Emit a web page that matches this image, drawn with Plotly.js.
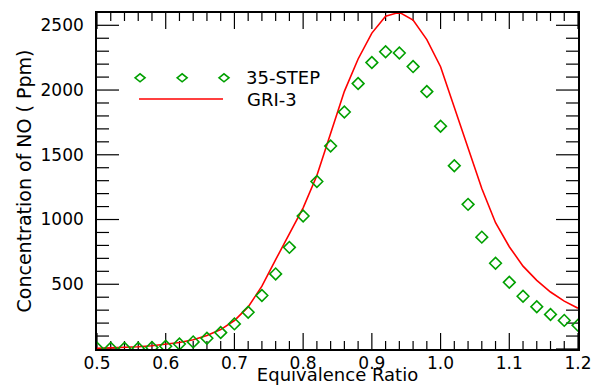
<!DOCTYPE html>
<html>
<head>
<meta charset="utf-8">
<script src="https://cdn.plot.ly/plotly-3.0.1.min.js"></script>
<style>
html,body{margin:0;padding:0;background:#fff;}
#chart{width:592px;height:385px;}
</style>
</head>
<body>
<div id="chart"></div>
<script>
// Equivalence ratio values
const phi = [0.50,0.52,0.54,0.56,0.58,0.60,0.62,0.64,0.66,0.68,0.70,0.72,0.74,0.76,0.78,0.80,0.82,0.84,0.86,0.88,0.90,0.92,0.94,0.96,0.98,1.00,1.02,1.04,1.06,1.08,1.10,1.12,1.14,1.16,1.18,1.20];
// 35-STEP mechanism NO (ppm)
const noStep35 = [6,6,6,6,11,21,39,55,83,127,194,284,413,580,785,1027,1294,1568,1830,2050,2212,2296,2286,2181,1988,1721,1416,1117,864,662,515,407,327,267,221,183];
// GRI-3 mechanism NO (ppm)
const noGri3 = [5,8,12,17,25,35,50,72,105,150,220,325,485,690,890,1090,1340,1660,1990,2240,2440,2570,2600,2540,2390,2180,1870,1550,1240,975,790,640,530,440,370,315];
const legendNames = ["35-STEP","GRI-3"];
const yTickVals = [500,1000,1500,2000,2500];

const FONT = "DejaVu Sans, Verdana, sans-serif";
const GREEN = "rgb(0,160,0)";
const RED = "rgb(255,0,0)";
const XR = [0.5, 1.2], YR = [0, 2595];
const W = 592, H = 385, M = {l: 97, r: 14, t: 13, b: 36};
const pxX = (XR[1] - XR[0]) / (W - M.l - M.r);   // axis units per pixel
const pxY = (YR[1] - YR[0]) / (H - M.t - M.b);

// Inward-pointing tick marks on all four sides, built from axis values
const tx = [], ty = [];
function seg(x0, y0, x1, y1){ tx.push(x0, x1, null); ty.push(y0, y1, null); }
for (let i = 0; i <= 35; i++) {
  const v = +(XR[0] + i * 0.02).toFixed(2);
  const len = ((i % 5 === 0) ? 16 : 8) * pxY;
  seg(v, YR[0], v, YR[0] + len);
  seg(v, YR[1], v, YR[1] - len);
}
for (let i = 0; i <= 25; i++) {
  const v = i * 100;
  const len = ((i % 5 === 0) ? 22 : 12) * pxX;
  seg(XR[0], v, XR[0] + len, v);
  seg(XR[1], v, XR[1] - len, v);
}

const traces = [
  {x: tx, y: ty, mode: "lines", line: {color: "black", width: 1.2},
   showlegend: false, hoverinfo: "skip", connectgaps: false},
  {x: phi, y: noGri3, mode: "lines", name: legendNames[1],
   line: {color: RED, width: 1.6}, showlegend: false},
  {x: phi, y: noStep35, mode: "markers", name: legendNames[0],
   marker: {symbol: "diamond-open", size: 9, color: GREEN, line: {color: GREEN, width: 1.6}},
   showlegend: false}
];

function diamond(px){
  return {type:"path", xref:"paper", yref:"paper", xsizemode:"pixel", ysizemode:"pixel",
    xanchor:px, yanchor:0.807, path:"M-5,0 L0,4 L5,0 L0,-4 Z",
    line:{color:GREEN, width:1.6}};
}

const layout = {
  width: W, height: H,
  margin: M,
  paper_bgcolor: "#fff", plot_bgcolor: "#fff",
  font: {family: FONT, size: 17, color: "#000"},
  xaxis: {
    range: XR, tickmode: "linear", tick0: 0.5, dtick: 0.1, tickformat: ".1f",
    ticks: "", showline: true, linecolor: "black", linewidth: 1.6, mirror: true,
    showgrid: false, zeroline: false, ticklabelstandoff: -2,
    tickfont: {family: FONT, size: 17},
    title: {text: "Equivalence Ratio", font: {family: FONT, size: 18}, standoff: 8}
  },
  yaxis: {
    range: YR, tickmode: "array", tickvals: yTickVals,
    ticks: "", showline: true, linecolor: "black", linewidth: 1.6, mirror: true,
    showgrid: false, zeroline: false, ticklabelstandoff: 8,
    tickfont: {family: FONT, size: 17},
    title: {text: "Concentration of NO ( Ppm)", font: {family: FONT, size: 19}, standoff: 4}
  },
  shapes: [
    diamond(0.0895), diamond(0.177), diamond(0.264),
    {type:"line", xref:"paper", yref:"paper", x0:0.0874, x1:0.262, y0:0.744, y1:0.744,
     line:{color:RED, width:1.6}}
  ],
  annotations: [
    {xref:"paper", yref:"paper", x:0.305, y:0.807, xanchor:"left", yanchor:"middle",
     text: legendNames[0], showarrow:false, font:{family:FONT, size:18}},
    {xref:"paper", yref:"paper", x:0.307, y:0.742, xanchor:"left", yanchor:"middle",
     text: legendNames[1], showarrow:false, font:{family:FONT, size:18}}
  ],
  showlegend: false
};

Plotly.newPlot("chart", traces, layout, {displayModeBar: false});
</script>
</body>
</html>
